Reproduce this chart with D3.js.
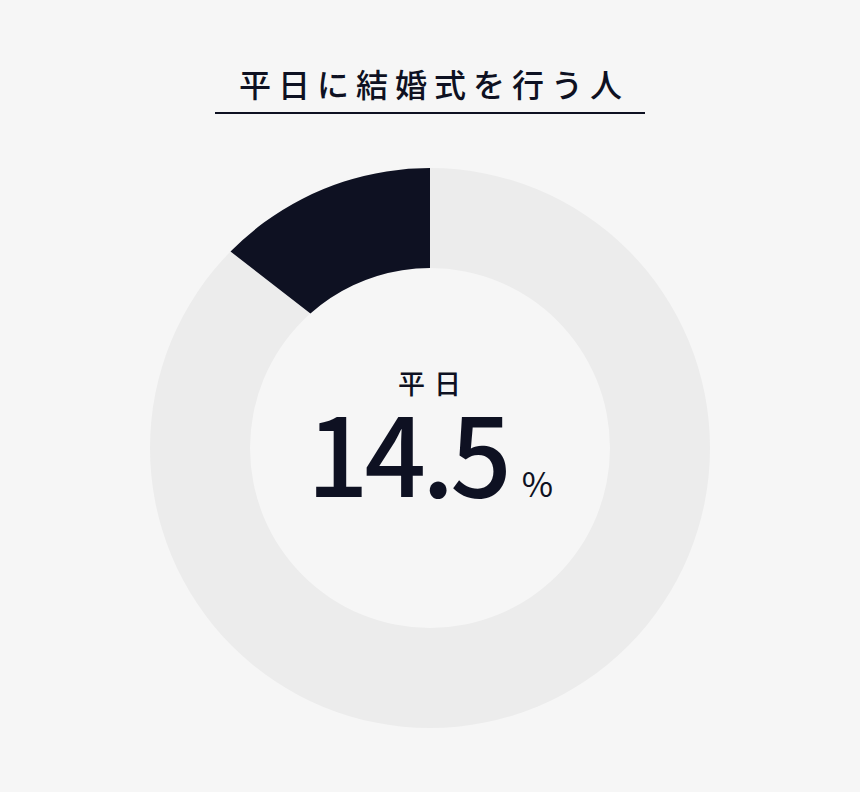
<!DOCTYPE html>
<html lang="ja">
  <head>
    <meta charset="UTF-8" />
    <title>平日に結婚式を行う人</title>
    <script src="https://d3js.org/d3.v7.min.js"></script>
    <style>
      body {
        margin: 0;
        background: #f6f6f6;
      }
      svg {
        display: block;
        font-family: "Noto Sans CJK JP", "Noto Sans", sans-serif;
      }
    </style>
  </head>
  <body>
    <svg width="860" height="792"></svg>

    <script>
      const title = "平日に結婚式を行う人";
      const categories = ["平日", "その他"];
      const values = [14.5, 85.5];
      const unit = "%";

      const width = 860;
      const height = 792;
      const cx = 430;
      const cy = 448;
      const rOuter = 280;
      const rInner = 180;
      const ink = "#0e1122";

      const svg = d3.select("svg");

      // title + underline
      svg
        .append("text")
        .attr("x", width / 2 + 4)
        .attr("y", 97)
        .attr("text-anchor", "middle")
        .attr("font-size", 32)
        .attr("font-weight", 500)
        .attr("letter-spacing", 7)
        .attr("fill", ink)
        .text(title);

      svg
        .append("line")
        .attr("x1", 215)
        .attr("x2", 645)
        .attr("y1", 113)
        .attr("y2", 113)
        .attr("stroke", ink)
        .attr("stroke-width", 2);

      const g = svg.append("g").attr("transform", `translate(${cx},${cy})`);

      // slices run counter-clockwise from 12 o'clock
      const pie = d3
        .pie()
        .sort(null)
        .value((d) => d)
        .startAngle(0)
        .endAngle(-2 * Math.PI);
      const slices = pie(values);

      const arc = d3.arc().innerRadius(rInner).outerRadius(rOuter);

      // track
      g.append("path")
        .attr("d", arc({ startAngle: 0, endAngle: 2 * Math.PI }))
        .attr("fill", "#ececec");

      // highlighted slice: its leading edge is offset (padded), the 12 o'clock edge is not
      g.append("clipPath")
        .attr("id", "left-half")
        .append("rect")
        .attr("x", -rOuter - 2)
        .attr("y", -rOuter - 2)
        .attr("width", rOuter + 2)
        .attr("height", 2 * rOuter + 4);

      const padArc = d3
        .arc()
        .innerRadius(rInner)
        .outerRadius(rOuter)
        .padRadius(rOuter)
        .padAngle(2 * Math.asin(33 / rOuter));

      const s = slices[0];
      g.append("path")
        .attr("clip-path", "url(#left-half)")
        .attr("d", padArc({ startAngle: s.startAngle + 0.6, endAngle: s.endAngle }))
        .attr("fill", ink);

      // centre labels
      g.append("text")
        .attr("x", 4)
        .attr("y", -54)
        .attr("text-anchor", "middle")
        .attr("font-size", 27)
        .attr("font-weight", 500)
        .attr("letter-spacing", 9)
        .attr("fill", ink)
        .text(categories[0]);

      const num = g
        .append("text")
        .attr("x", 0)
        .attr("y", 49)
        .attr("text-anchor", "middle")
        .attr("fill", ink);
      num
        .append("tspan")
        .attr("font-size", 108)
        .attr("font-weight", 500)
        .attr("letter-spacing", -4)
        .text(d3.format(".1f")(values[0]));
      num
        .append("tspan")
        .attr("dx", 14)
        .attr("font-size", 34)
        .attr("font-weight", 400)
        .text(unit);
    </script>
  </body>
</html>
